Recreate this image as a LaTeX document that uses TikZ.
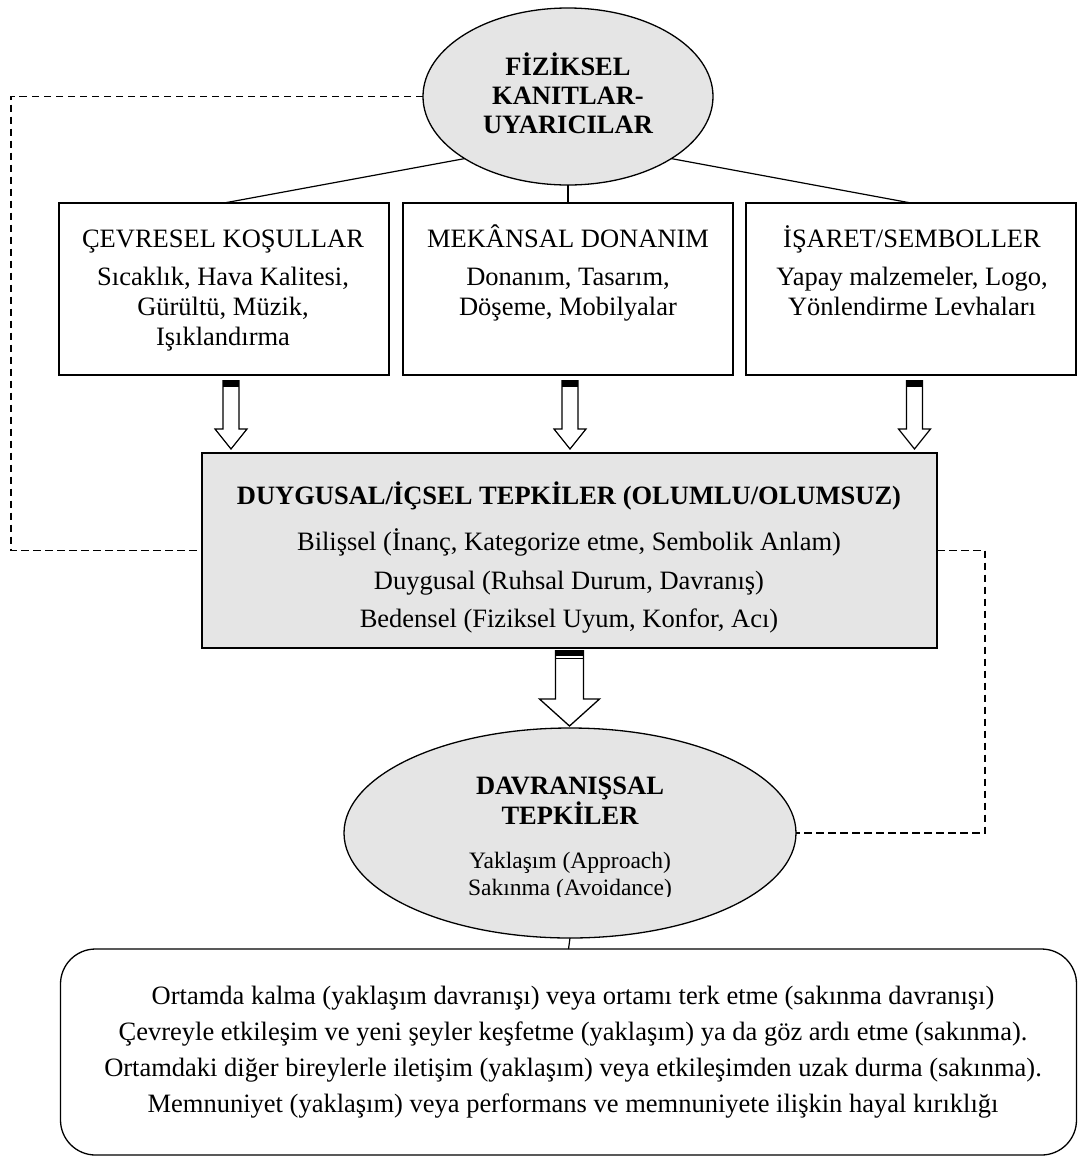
\documentclass[tikz,border=0pt]{standalone}
\usepackage{fontspec}
\setmainfont{Liberation Serif}
\usetikzlibrary{shapes.geometric,calc}
\tikzset{
  smallarrow/.pic={
    \fill (-8,0) rectangle (8,7);
    \draw[line width=1.2pt] (-8,0) -- (-8,49) -- (-16,49) -- (0,69) -- (16,49) -- (8,49) -- (8,0);
  },
  bigarrow/.pic={
    \fill (-14,0) rectangle (14,5.5);
    \fill (-14,7.5) rectangle (14,9);
    \draw[line width=1.3pt] (-14,0) -- (-14,49) -- (-30,49) -- (0,76) -- (30,49) -- (14,49) -- (14,0);
  }
}
\begin{document}
\begin{tikzpicture}[x=1pt,y=-1pt,
  every node/.style={inner sep=0pt, outer sep=0pt},
  frame/.style={draw, line width=1.3pt},
  pbox/.style={frame, minimum width=330pt, minimum height=172pt},
  oval/.style={frame, ellipse, fill=black!10},
  dashconn/.style={line width=1.2pt, dash pattern=on 7.5pt off 4.5pt},
  conn/.style={line width=1.2pt},
  rtext/.style={anchor=base, font=\fontsize{26.5}{30}\selectfont},
  btext/.style={anchor=base, font=\fontsize{26.5}{30}\selectfont\bfseries},
  stext/.style={anchor=base, font=\fontsize{23.5}{27}\selectfont},
]
\useasboundingbox (0,0) rectangle (1078,1157);

% main shapes
\node[oval, minimum width=290pt, minimum height=177pt] (top) at (568,96.5) {};
\node[pbox] (b1) at (224,289) {};
\node[pbox] (b2) at (568,289) {};
\node[pbox] (b3) at (911,289) {};
\node[frame, fill=black!10, minimum width=735pt, minimum height=195pt] (cb) at (569.5,550.5) {};
\node[oval, minimum width=452pt, minimum height=210pt] (be) at (570,833) {};
\node[frame, rounded corners=35pt, minimum width=1016pt, minimum height=206pt] (rb) at (568.5,1052) {};

% connectors
\draw[conn] (top.211) -- (b1.north);
\draw[conn] (top.south) -- (b2.north);
\draw[conn] (top.329) -- (b3.north);
\draw[conn] (be.south) -- (rb.north);

\coordinate (dl) at (11,300);
\coordinate (dr) at (985,700);
\draw[dashconn] (top.west) -| (dl) |- (cb.west);
\draw[dashconn] (cb.east) -| (dr) |- (be.east);

% block arrows
\pic at ($(b1.south)+(7,5)$) {smallarrow};
\pic at ($(b2.south)+(2,5)$) {smallarrow};
\pic at ($(b3.south)+(3.5,5)$) {smallarrow};
\pic at ($(cb.south)+(0,2)$) {bigarrow};

% texts: top ellipse
\node[btext] (t1) at (568,75) {FİZİKSEL};
\node[btext] (t2) at (568,104) {KANITLAR-};
\node[btext] (t3) at (568,133) {UYARICILAR};

% box 1
\node[rtext] (b1a) at (223,247) {ÇEVRESEL KOŞULLAR};
\node[rtext] (b1b) at (223,285) {Sıcaklık, Hava Kalitesi,};
\node[rtext] (b1c) at (223,315) {Gürültü, Müzik,};
\node[rtext] (b1d) at (223,345) {Işıklandırma};
% box 2
\node[rtext] (b2a) at (568,247) {MEKÂNSAL DONANIM};
\node[rtext] (b2b) at (568,285) {Donanım, Tasarım,};
\node[rtext] (b2c) at (568,315) {Döşeme, Mobilyalar};
% box 3
\node[rtext] (b3a) at (912,247) {İŞARET/SEMBOLLER};
\node[rtext] (b3b) at (912,285) {Yapay malzemeler, Logo,};
\node[rtext] (b3c) at (912,315) {Yönlendirme Levhaları};

% central box
\node[btext] (c1) at (569,504) {DUYGUSAL/İÇSEL TEPKİLER (OLUMLU/OLUMSUZ)};
\node[rtext] (c2) at (569,550) {Bilişsel (İnanç, Kategorize etme, Sembolik Anlam)};
\node[rtext] (c3) at (569,589) {Duygusal (Ruhsal Durum, Davranış)};
\node[rtext] (c4) at (569,627) {Bedensel (Fiziksel Uyum, Konfor, Acı)};

% bottom ellipse
\node[btext] (e1) at (570,794) {DAVRANIŞSAL};
\node[btext] (e2) at (570,824) {TEPKİLER};
\node[stext] (e3) at (570,868) {Yaklaşım (Approach)};
\begin{scope}
  \clip (380,870) rectangle (760,896.5);
  \node[stext] (e4) at (570,895) {Sakınma (Avoidance)};
\end{scope}

% rounded box
\node[rtext] (r1) at (573,1004) {Ortamda kalma (yaklaşım davranışı) veya ortamı terk etme (sakınma davranışı)};
\node[rtext] (r2) at (573,1040) {Çevreyle etkileşim ve yeni şeyler keşfetme (yaklaşım) ya da göz ardı etme (sakınma).};
\node[rtext] (r3) at (573,1076) {Ortamdaki diğer bireylerle iletişim (yaklaşım) veya etkileşimden uzak durma (sakınma).};
\node[rtext] (r4) at (573,1112) {Memnuniyet (yaklaşım) veya performans ve memnuniyete ilişkin hayal kırıklığı};
\end{tikzpicture}
\end{document}
